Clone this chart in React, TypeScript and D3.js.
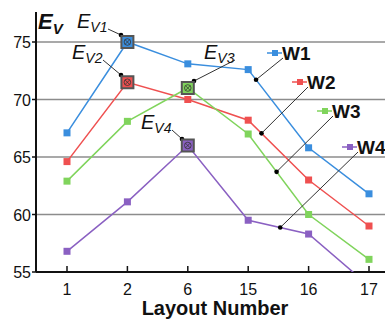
import React from 'react';
import * as d3 from 'd3';

const categories = ['1', '2', '6', '15', '16', '17'];
const seriesNames = ['W1', 'W2', 'W3', 'W4'];
const w1 = [67.1, 75.0, 73.1, 72.6, 65.8, 61.8];
const w2 = [64.6, 71.5, 70.0, 68.2, 63.0, 59.0];
const w3 = [62.9, 68.1, 71.0, 67.0, 60.0, 56.1];
const w4 = [56.8, 61.1, 66.0, 59.5, 58.3, 53.8];
const yTicks = [55, 60, 65, 70, 75];
const colors = ['#3a8ede', '#ef5050', '#80d45c', '#8a60c2'];
const peakIndex = [1, 1, 2, 2];
const peakLabels = ['V1', 'V2', 'V3', 'V4'];

const W = 385;
const H = 321;
const FONT = 'Arial, "Liberation Sans", sans-serif';

export default function App() {
  const allSeries = [w1, w2, w3, w4];
  const x = d3.scalePoint<string>().domain(categories).range([67, 369]);
  const y = d3.scaleLinear().domain([55, 75]).range([272, 42]);
  const yTop = y(77.6);
  const left = 36;
  const bottom = y(55);

  const line = d3
    .line<number>()
    .x((d, i) => x(categories[i]) as number)
    .y((d) => y(d));

  // point between category i and i+1 at fraction t along the line
  const along = (s: number[], i: number, t: number) => {
    const x0 = x(categories[i]) as number;
    const x1 = x(categories[i + 1]) as number;
    return [x0 + (x1 - x0) * t, y(s[i] + (s[i + 1] - s[i]) * t)];
  };

  // legend label placement and leader dot fraction (between 15 and 16)
  const legend = [
    { lx: 282, ly: 53, t: 0.13 },
    { lx: 307, ly: 82, t: 0.22 },
    { lx: 332, ly: 111, t: 0.47 },
    { lx: 357, ly: 147, t: 0.53 },
  ];

  // peak annotation text offsets
  const peakText = [
    { tx: 77, ty: 28, dx: 121, dy: 35 },
    { tx: 72, ty: 59, dx: 121, dy: 75 },
    { tx: 204, ty: 59, dx: 194, dy: 81 },
    { tx: 141, ty: 129, dx: 182, dy: 139 },
  ];

  return (
    <svg
      width={W}
      height={H}
      style={{ position: 'absolute', left: 0, top: 0, background: '#fff' }}
      fontFamily={FONT}
    >
      <defs>
        <clipPath id='plot'>
          <rect x={left} y={yTop} width={W - left} height={bottom - yTop} />
        </clipPath>
      </defs>

      {/* grid */}
      {yTicks.slice(1).map((t) => (
        <line key={t} x1={left} x2={W} y1={y(t)} y2={y(t)} stroke='#8c8c8c' strokeWidth={1.6} />
      ))}

      {/* axes */}
      <line x1={left} x2={left} y1={yTop} y2={bottom} stroke='#111' strokeWidth={2} />
      <line x1={left} x2={W} y1={bottom} y2={bottom} stroke='#111' strokeWidth={2} />
      {yTicks.map((t) => (
        <g key={t}>
          <line x1={left - 4} x2={left} y1={y(t)} y2={y(t)} stroke='#111' strokeWidth={1.5} />
          <text x={left - 5} y={y(t) + 6} fontSize={16} textAnchor='end' fill='#111'>
            {t}
          </text>
        </g>
      ))}
      {categories.map((c) => (
        <g key={c}>
          <line x1={x(c)} x2={x(c)} y1={bottom} y2={bottom - 6} stroke='#111' strokeWidth={1.5} />
          <text x={x(c)} y={bottom + 23} fontSize={16} textAnchor='middle' fill='#111'>
            {c}
          </text>
        </g>
      ))}
      <text x={215} y={315} fontSize={20} fontWeight='bold' textAnchor='middle' fill='#111'>
        Layout Number
      </text>
      <text x={38} y={29} fontSize={22} fontStyle='italic' fontWeight='bold' fill='#111'>
        E
        <tspan fontSize={15} dy={5}>V</tspan>
      </text>

      {/* series */}
      <g clipPath='url(#plot)'>
        {allSeries.map((s, k) => (
          <g key={k}>
            <path d={line(s) || ''} fill='none' stroke={colors[k]} strokeWidth={1.5} />
            {s.map((v, i) =>
              i === peakIndex[k] ? null : (
                <rect
                  key={i}
                  x={(x(categories[i]) as number) - 3.5}
                  y={y(v) - 3.5}
                  width={7}
                  height={7}
                  fill={colors[k]}
                />
              )
            )}
          </g>
        ))}
      </g>

      {/* peak markers */}
      {allSeries.map((s, k) => {
        const px = x(categories[peakIndex[k]]) as number;
        const py = y(s[peakIndex[k]]);
        const a = peakText[k];
        return (
          <g key={k}>
            <line x1={a.tx + 31} y1={a.ty + 1} x2={a.dx} y2={a.dy} stroke='#333' strokeWidth={1} />
            <line x1={a.dx} y1={a.dy} x2={px} y2={py} stroke='#333' strokeWidth={1} />
            <circle cx={a.dx} cy={a.dy} r={2.3} fill='#000' />
            <rect x={px - 6} y={py - 6} width={12} height={12} fill={colors[k]} stroke='#555' strokeWidth={2} />
            <circle cx={px} cy={py} r={3.3} fill='none' stroke='#333' strokeWidth={0.8} />
            <path
              d={`M${px - 2.3},${py - 2.3}L${px + 2.3},${py + 2.3}M${px + 2.3},${py - 2.3}L${px - 2.3},${py + 2.3}`}
              stroke='#333'
              strokeWidth={0.8}
            />
            <text x={a.tx} y={a.ty} fontSize={20} fontStyle='italic' fill='#111'>
              E
              <tspan fontSize={14} dy={4}>{peakLabels[k]}</tspan>
            </text>
          </g>
        );
      })}

      {/* legend with leaders */}
      {allSeries.map((s, k) => {
        const L = legend[k];
        const [dx, dy] = along(s, 3, L.t);
        return (
          <g key={k}>
            <line x1={L.lx - 15} x2={L.lx} y1={L.ly} y2={L.ly} stroke={colors[k]} strokeWidth={1.5} />
            <rect x={L.lx - 10} y={L.ly - 3} width={6} height={6} fill={colors[k]} />
            <line x1={L.lx + 1} y1={L.ly + 5} x2={dx} y2={dy} stroke='#333' strokeWidth={1} />
            <circle cx={dx} cy={dy} r={2.3} fill='#000' />
            <text x={L.lx} y={L.ly + 7} fontSize={19} fontWeight='bold' fill='#111'>
              {seriesNames[k]}
            </text>
          </g>
        );
      })}
    </svg>
  );
}
